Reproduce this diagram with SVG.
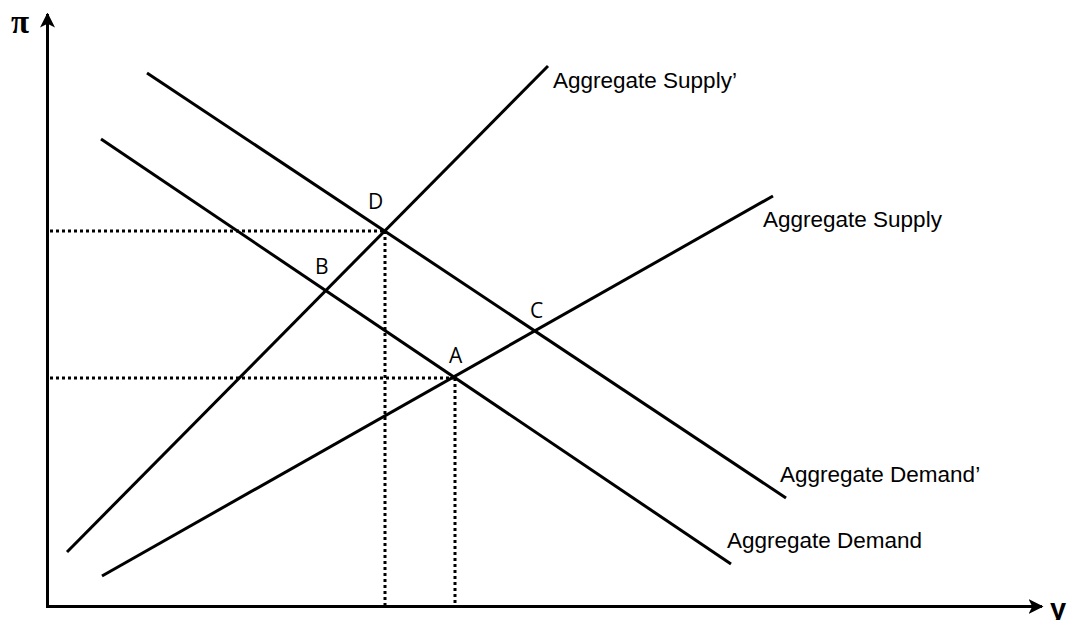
<svg xmlns="http://www.w3.org/2000/svg" width="1067" height="620" viewBox="0 0 1067 620">
<style>
.ln{stroke:#000;stroke-width:3;fill:none;stroke-linecap:butt}
.dot{stroke:#000;stroke-width:3;fill:none;stroke-dasharray:3 3}
.lbl{font-family:"Liberation Sans",Arial,sans-serif;font-size:22.5px;fill:#000}
.pt{font-family:"Open Sans","Liberation Sans",sans-serif;font-size:21px;fill:#000}
</style>
<defs>
<marker id="arr" viewBox="0 0 10 10" refX="9" refY="5" markerWidth="5" markerHeight="5" orient="auto" markerUnits="strokeWidth">
<path d="M0,0 L10,5 L0,10 L2.5,5 Z" fill="#000"/>
</marker>
</defs>
<g id="axes">
<line class="ln" x1="47.5" y1="607" x2="47.5" y2="14" marker-end="url(#arr)"/>
<line class="ln" x1="46" y1="606.5" x2="1042" y2="606.5" marker-end="url(#arr)"/>
<text x="11" y="33" style="font-family:'Liberation Serif',serif;font-size:33px;font-weight:bold">π</text>
<text x="1050" y="619" style="font-family:'Liberation Sans',sans-serif;font-size:29px;font-weight:bold">y</text>
</g>
<g id="connectors">
<line class="dot" x1="50" y1="231" x2="385" y2="231"/>
<line class="dot" x1="385" y1="231" x2="385" y2="605"/>
<line class="dot" x1="50" y1="378" x2="455" y2="378"/>
<line class="dot" x1="455" y1="378" x2="455" y2="605"/>
</g>
<g id="as-prime">
<line class="ln" x1="67" y1="552" x2="548" y2="66"/>
<text class="lbl" x="553" y="88">Aggregate Supply’</text>
</g>
<g id="as">
<line class="ln" x1="102" y1="576" x2="773" y2="196"/>
<text class="lbl" x="763" y="227">Aggregate Supply</text>
</g>
<g id="ad">
<line class="ln" x1="101" y1="139" x2="731" y2="564"/>
<text class="lbl" x="727" y="548">Aggregate Demand</text>
</g>
<g id="ad-prime">
<line class="ln" x1="147" y1="73" x2="786" y2="498"/>
<text class="lbl" x="780" y="482">Aggregate Demand’</text>
</g>
<g id="pA"><text class="pt" x="449" y="363">A</text></g>
<g id="pB"><text class="pt" x="315" y="274">B</text></g>
<g id="pC"><text class="pt" x="530" y="318">C</text></g>
<g id="pD"><text class="pt" x="368" y="209">D</text></g>
</svg>
